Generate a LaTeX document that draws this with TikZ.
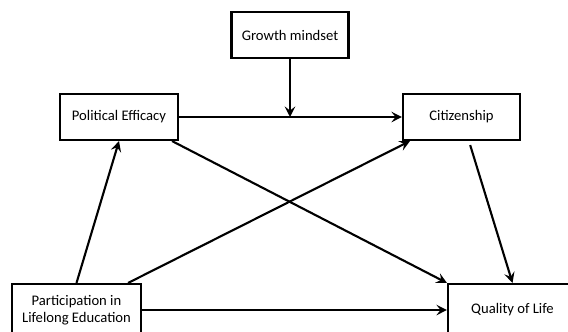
\documentclass[tikz,border=0pt]{standalone}
\usepackage{fontspec}
\setmainfont{Carlito}
\usetikzlibrary{arrows.meta,calc,positioning}

\begin{document}
\begin{tikzpicture}[
  x=0.03cm,
  y=-0.03cm,
  font=\fontsize{12.5}{14}\selectfont,
  varbox/.style={draw=black, fill=white, line width=1.8pt, align=center,
    minimum width=3.51cm, minimum height=1.38cm, inner sep=2pt},
  endbox/.style={varbox, minimum width=3.87cm, minimum height=1.56cm},
  effect/.style={-{Stealth[length=9pt,width=9pt,inset=3.5pt]}, draw=black, line width=1.8pt}
]
\useasboundingbox (0,0) rectangle (568,331);
\clip (0,0) rectangle (568,331);

% Variables
\node[varbox] (growth) at (290,35) {Growth mindset};
\node[varbox, minimum width=3.54cm] (efficacy) at (119,117) {Political Efficacy};
\node[varbox] (citizen) at (461.5,117) {Citizenship};
\node[endbox] (lifelong) at (76.5,310) {Participation in\\Lifelong Education};
\node[endbox] (quality) at (512.5,310) {Quality of Life};

% Paths
\coordinate (moderate) at (growth.south |- efficacy.east);
\draw[effect] (efficacy.east) -- (citizen.west);
\draw[effect] (growth.south) -- (moderate);
\draw[effect] (lifelong.north) -- (efficacy.south);
\draw[effect] ([xshift=-0.42cm]lifelong.north east) -- ([xshift=0.24cm]citizen.south west);
\draw[effect] ([xshift=-0.21cm]efficacy.south east) -- (quality.north west);
\draw[effect] ([xshift=0.26cm,yshift=-0.12cm]citizen.south) -- (quality.north);
\draw[effect] (lifelong.east) -- (quality.west);
\end{tikzpicture}
\end{document}
